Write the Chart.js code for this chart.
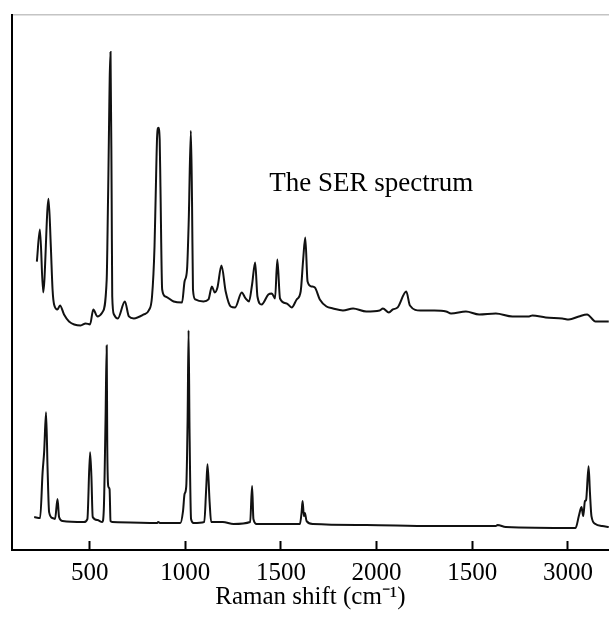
<!DOCTYPE html>
<html>
<head>
<meta charset="utf-8">
<script src="https://cdn.jsdelivr.net/npm/chart.js@4.4.1/dist/chart.umd.min.js"></script>
<style>
  html, body { margin: 0; padding: 0; background: #fff; }
  #wrap { width: 610px; height: 617px; }
</style>
</head>
<body>
<div id="wrap"><canvas id="ramanChart"></canvas></div>
<script>
(() => {
  // upper trace: SER spectrum
  const serShift = [224, 240, 257, 285, 297, 306, 314, 332, 345, 366, 392, 453, 479, 502, 519, 540, 566, 589, 596, 609, 615, 618, 627, 647, 684, 705, 731, 783, 809, 826, 839, 845, 853, 859, 866, 870, 879, 896, 939, 983, 996, 1009, 1018, 1029, 1035, 1040, 1052, 1095, 1121, 1139, 1154, 1168, 1189, 1211, 1237, 1260, 1295, 1315, 1333, 1349, 1365, 1377, 1399, 1434, 1452, 1469, 1481, 1495, 1530, 1556, 1582, 1603, 1616, 1627, 1639, 1660, 1677, 1703, 1738, 1772, 1824, 1877, 1946, 2016, 2033, 2064, 2085, 2110, 2155, 2174, 2229, 2302, 2363, 2389, 2467, 2536, 2623, 2710, 2797, 2814, 2884, 2970, 3005, 3057, 3100, 3144, 3214];
  const serIntensity = [289, 321, 258, 352, 304, 261, 246, 241, 245, 236, 229, 225, 227, 226, 241, 234, 238, 271, 351, 499, 351, 254, 236, 232, 249, 234, 232, 236, 240, 254, 304, 354, 416, 423, 411, 364, 261, 254, 249, 248, 269, 281, 331, 420, 351, 261, 251, 249, 251, 264, 258, 263, 285, 259, 244, 243, 258, 252, 249, 266, 288, 254, 246, 256, 257, 252, 291, 252, 247, 243, 251, 259, 291, 313, 269, 264, 263, 251, 244, 242, 240, 242, 239, 240, 242, 238, 241, 243, 259, 245, 240, 240, 239, 237, 239, 236, 237, 234, 234, 235, 233, 232, 231, 234, 236, 229, 229];

  // lower trace: normal Raman spectrum
  const refShift = [210, 241, 254, 262, 272, 280, 288, 306, 319, 332, 340, 358, 470, 488, 502, 509, 516, 540, 566, 574, 583, 589, 592, 597, 604, 609, 618, 853, 858, 870, 974, 988, 996, 1005, 1012, 1017, 1022, 1030, 1043, 1099, 1109, 1116, 1127, 1135, 1196, 1252, 1339, 1349, 1356, 1373, 1599, 1608, 1613, 1620, 1625, 1634, 1668, 1946, 2293, 2623, 2632, 2675, 3040, 3057, 3071, 3080, 3089, 3095, 3108, 3115, 3123, 3144, 3179, 3214];
  const refIntensity = [33, 32, 78, 98, 138, 81, 38, 32, 31, 51, 33, 29, 28, 31, 98, 74, 33, 30, 28, 41, 131, 205, 104, 64, 61, 29, 28, 27, 28, 27, 27, 39, 56, 64, 131, 220, 121, 31, 27, 28, 61, 86, 48, 28, 28, 26, 28, 64, 31, 26, 26, 38, 49, 34, 37, 29, 26, 25, 24, 24, 25, 23, 22, 34, 43, 34, 49, 50, 84, 58, 34, 26, 24, 23];

  const tickValues = [500, 1000, 1500, 2000, 2500, 3000];
  const tickLabels = ["500", "1000", "1500", "2000", "1500", "3000"];

  const spectrumLabel = "The SER spectrum";
  const spectrumLabelAt = { shift: 1439, intensity: 360 };

  const serif = '"Liberation Serif", "Times New Roman", serif';
  const toPoints = (xs, ys) => xs.map((x, i) => ({ x, y: ys[i] }));

  const labelPlugin = {
    id: "spectrumLabel",
    afterDatasetsDraw(chart) {
      const { ctx, scales } = chart;
      ctx.save();
      ctx.font = "27px " + serif;
      ctx.fillStyle = "#000";
      ctx.textAlign = "left";
      ctx.textBaseline = "alphabetic";
      ctx.fillText(
        spectrumLabel,
        scales.x.getPixelForValue(spectrumLabelAt.shift),
        scales.y.getPixelForValue(spectrumLabelAt.intensity)
      );
      ctx.restore();
    },
  };

  const line = {
    borderColor: "#111",
    borderWidth: 2,
    pointRadius: 0,
    fill: false,
    cubicInterpolationMode: "monotone",
  };

  new Chart(document.getElementById("ramanChart"), {
    type: "line",
    data: {
      datasets: [
        { label: "SER", data: toPoints(serShift, serIntensity), ...line },
        { label: "Raman", data: toPoints(refShift, refIntensity), ...line },
      ],
    },
    options: {
      responsive: true,
      maintainAspectRatio: false,
      animation: false,
      layout: { padding: 0 },
      plugins: { legend: { display: false }, tooltip: { enabled: false } },
      scales: {
        x: {
          type: "linear",
          min: 94,
          max: 3214,
          afterBuildTicks(scale) {
            scale.ticks = tickValues.map((value) => ({ value }));
          },
          afterFit(scale) {
            scale.height = 67;
          },
          ticks: {
            autoSkip: false,
            maxRotation: 0,
            padding: 17,
            color: "#000",
            font: { family: serif, size: 25 },
            callback(value) {
              return tickLabels[tickValues.indexOf(value)];
            },
          },
          grid: {
            display: true,
            drawOnChartArea: false,
            drawTicks: true,
            tickLength: -9,
            tickWidth: 2,
            tickColor: "#000",
          },
          border: { display: true, color: "#000", width: 2 },
          title: {
            display: true,
            text: "Raman shift (cm\u207B\u00B9)",
            color: "#000",
            font: { family: serif, size: 25 },
            padding: { top: 0, bottom: 5 },
          },
        },
        xTop: {
          type: "linear",
          position: "top",
          min: 94,
          max: 3214,
          afterFit(scale) {
            scale.height = 15;
          },
          ticks: { display: false },
          grid: { display: false, drawTicks: false },
          border: { display: true, color: "#c4c4c4", width: 1.5 },
        },
        y: {
          min: 0,
          max: 536,
          afterFit(scale) {
            scale.width = 12;
          },
          ticks: { display: false },
          grid: { display: false, drawTicks: false },
          border: { display: true, color: "#000", width: 2 },
        },
      },
    },
    plugins: [labelPlugin],
  });
})();
</script>
</body>
</html>
